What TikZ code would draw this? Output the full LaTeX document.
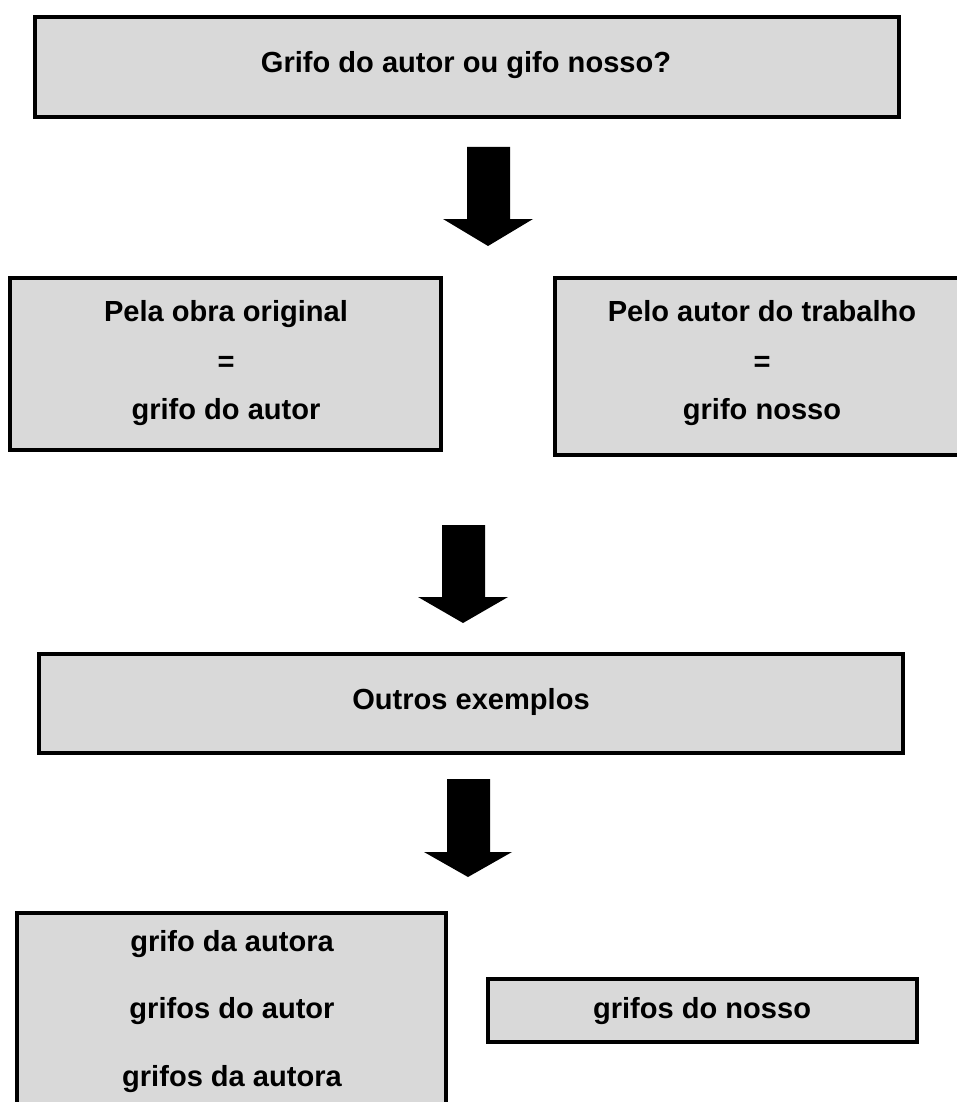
\documentclass[tikz,border=0pt]{standalone}
\usepackage{fontspec}
\setmainfont{Liberation Sans}
\begin{document}
\begin{tikzpicture}[x=0.75pt,y=-0.75pt,
  box/.style={draw=black,line width=3pt,fill=boxgray,inner sep=0pt},
  lbl/.style={font=\fontsize{21.8}{26}\selectfont\bfseries,anchor=base,inner sep=0pt},
  blockarrow/.style={fill=black}]
\definecolor{boxgray}{RGB}{217,217,217}
\useasboundingbox (0,0) rectangle (956,1102);
% boxes
\node[box,minimum width=648pt,minimum height=75pt] (q) at (467,67) {};
\node[box,minimum width=323.25pt,minimum height=129pt] (orig) at (225.5,364) {};
\node[box,minimum width=307.5pt,minimum height=132.75pt] (trab) at (760,366.5) {};
\node[box,minimum width=648pt,minimum height=74.25pt] (outros) at (471,703.5) {};
\node[box,minimum width=321.75pt,minimum height=155.25pt] (autora) at (231.5,1016.5) {};
\node[box,minimum width=321.75pt,minimum height=47.25pt] (nosso) at (702.5,1010.5) {};
% texts
\node[lbl] (tq) at (466,73) {Grifo do autor ou gifo nosso?};
\node[lbl] (to1) at (226,321) {Pela obra original};
\node[lbl] (to2) at (226,371) {=};
\node[lbl] (to3) at (226,419) {grifo do autor};
\node[lbl] (tt1) at (762,321) {Pelo autor do trabalho};
\node[lbl] (tt2) at (762,371) {=};
\node[lbl] (tt3) at (762,419) {grifo nosso};
\node[lbl] (tout) at (471,709) {Outros exemplos};
\node[lbl] (ta1) at (232,951) {grifo da autora};
\node[lbl] (ta2) at (232,1018) {grifos do autor};
\node[lbl] (ta3) at (232,1086) {grifos da autora};
\node[lbl] (tn) at (702,1018) {grifos do nosso};
% block arrows
\fill[blockarrow] (467,147) -- (510,147) -- (510,219) -- (533,219) -- (488,246) -- (443,219) -- (467,219) -- cycle;
\fill[blockarrow] (442,525) -- (485,525) -- (485,597) -- (508,597) -- (463,623) -- (418,597) -- (442,597) -- cycle;
\fill[blockarrow] (447,779) -- (490,779) -- (490,852) -- (512,852) -- (468,877) -- (424,852) -- (447,852) -- cycle;
\end{tikzpicture}
\end{document}
